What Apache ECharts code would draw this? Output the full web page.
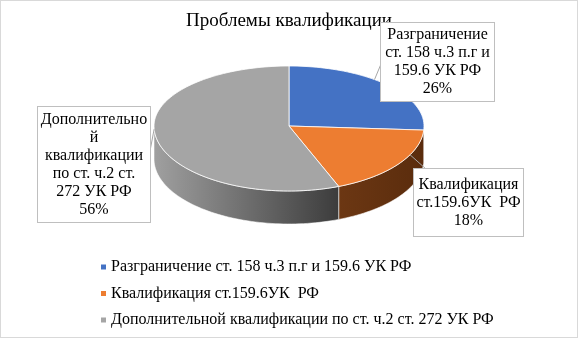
<!DOCTYPE html>
<html>
<head>
<meta charset="utf-8">
<script src="https://cdn.jsdelivr.net/npm/echarts@6/dist/echarts.min.js"></script>
<style>
  html, body { margin: 0; padding: 0; background: #fff; }
  #chart { width: 578px; height: 338px; box-sizing: border-box; border: 1px solid #d9d9d9; }
</style>
</head>
<body>
<div id="chart"></div>
<script>
// data
const categories = [
  "Разграничение ст. 158 ч.3 п.г и 159.6 УК РФ",
  "Квалификация ст.159.6УК  РФ",
  "Дополнительной квалификации по ст. ч.2 ст. 272 УК РФ",
];
const values = [26, 18, 56];
const labelTexts = [
  "Разграничение\nст. 158 ч.3 п.г и\n159.6 УК РФ",
  "Квалификация\nст.159.6УК  РФ",
  "Дополнительно\nй\nквалификации\nпо ст. ч.2 ст.\n272 УК РФ",
];

// look
const topColors = ["#4472c4", "#ed7d31", "#a5a5a5"];
const sideColors = [
  ["#2f5597", "#2a4c88"],
  ["#6c3713", "#5a2c0d"],
  ["#a0a0a0", "#3c3c3c"],
];
const FONT = "Liberation Serif";
const pie = { cx: 288, cy: 125, rx: 135, ryTop: 60, ryBot: 65, depth: 33 };
const boxes = [
  { x: 436.5, y: 61, w: 105, pad: [3, 4, 3, 4], end: [380, 63], at: 0.42 },
  { x: 467.5, y: 201.5, w: 101, pad: [6, 4, 7, 4], end: [425, 168], at: 0.35 },
  { x: 93, y: 163.5, w: 104, pad: [3, 4, 4, 4], end: [149, 150], at: 0.54 },
];

const total = values.reduce((a, b) => a + b, 0);
let acc = 0;
const starts = values.map((v) => { const s = acc; acc += v; return s; });

function pt(a, dy) {
  const c = Math.cos(a);
  const ry = c > 0 ? pie.ryTop : pie.ryBot;
  return [pie.cx + pie.rx * Math.sin(a), pie.cy - ry * c + (dy || 0)];
}

function arc(a0, a1, dy) {
  const pts = [];
  const n = Math.max(2, Math.ceil((a1 - a0) / 0.03));
  for (let k = 0; k <= n; k++) pts.push(pt(a0 + (a1 - a0) * k / n, dy));
  return pts;
}

function makeRender(i) {
  return function (params, api) {
    const v = api.value(0);
    const s = api.value(1);
    const t = api.value(2);
    const a0 = s / t * Math.PI * 2;
    const a1 = (s + v) / t * Math.PI * 2;
    const children = [];

    // front wall (only the half facing the viewer)
    const b0 = Math.max(a0, Math.PI / 2);
    const b1 = Math.min(a1, Math.PI * 1.5);
    if (b1 > b0) {
      const up = arc(b0, b1, 0);
      const down = arc(b0, b1, pie.depth).reverse();
      children.push({
        type: "polygon",
        z2: 0,
        shape: { points: up.concat(down) },
        style: {
          fill: new echarts.graphic.LinearGradient(0, 0, 1, 0, [
            { offset: 0, color: sideColors[i][0] },
            { offset: 1, color: sideColors[i][1] },
          ]),
          stroke: "rgba(255,255,255,0.7)",
          lineWidth: 0.8,
        },
      });
    }

    // top face
    children.push({
      type: "polygon",
      z2: 1,
      shape: { points: [[pie.cx, pie.cy]].concat(arc(a0, a1, 0)) },
      style: { fill: topColors[i], stroke: "#ffffff", lineWidth: 0.8 },
    });

    // leader line + label box
    const b = boxes[i];
    const p = pt(a0 + (a1 - a0) * b.at, 0);
    children.push({
      type: "polyline",
      z2: 2,
      shape: { points: [p, b.end] },
      style: { stroke: "#a6a6a6", lineWidth: 1, fill: null },
    });
    children.push({
      type: "text",
      z2: 3,
      style: {
        text: labelTexts[i] + "\n" + Math.round(v / t * 100) + "%",
        x: b.x,
        y: b.y,
        align: "center",
        verticalAlign: "middle",
        fontFamily: FONT,
        fontSize: 16,
        lineHeight: 18,
        width: b.w,
        fill: "#000",
        backgroundColor: "#fff",
        borderColor: "#bfbfbf",
        borderWidth: 1,
        padding: b.pad,
      },
    });
    return { type: "group", children: children };
  };
}

const chart = echarts.init(document.getElementById("chart"));
chart.setOption({
  animation: false,
  title: {
    text: "Проблемы квалификации",
    left: "center",
    top: 6,
    textStyle: { fontFamily: FONT, fontSize: 19, fontWeight: "normal", color: "#000" },
  },
  legend: {
    orient: "vertical",
    left: 95,
    top: 253,
    icon: "rect",
    itemWidth: 5,
    itemHeight: 5,
    itemGap: 10.5,
    selectedMode: false,
    data: categories,
    textStyle: { fontFamily: FONT, fontSize: 16, color: "#000" },
  },
  series: categories.map((name, i) => ({
    name: name,
    type: "custom",
    coordinateSystem: "none",
    z: 10,
    itemStyle: { color: topColors[i] },
    data: [[values[i], starts[i], total]],
    renderItem: makeRender(i),
  })),
});
</script>
</body>
</html>
